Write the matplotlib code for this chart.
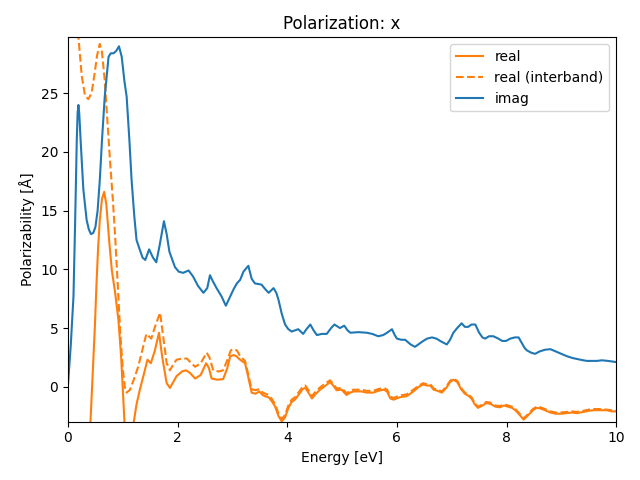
import numpy as np
import matplotlib.pyplot as plt

# real part (total)
real_x = [0.02, 0.2, 0.35, 0.41, 0.46, 0.49, 0.52, 0.55, 0.58, 0.62, 0.66, 0.70, 0.75, 0.80, 0.86, 0.92, 0.97,
          1.03, 1.10, 1.15, 1.20, 1.25, 1.31, 1.38, 1.45, 1.51, 1.58, 1.66, 1.72, 1.80, 1.86, 1.92,
          1.98, 2.08, 2.15, 2.22, 2.32, 2.42, 2.52, 2.57, 2.62, 2.72, 2.83, 2.90, 2.96, 3.02, 3.07,
          3.14, 3.23, 3.28, 3.35, 3.42, 3.49, 3.55, 3.59, 3.66, 3.72, 3.78, 3.84, 3.90, 3.96, 4.02,
          4.08, 4.14, 4.22, 4.28, 4.33, 4.40, 4.45, 4.52, 4.60, 4.70, 4.78, 4.84, 4.90, 4.99, 5.08,
          5.15, 5.21, 5.35, 5.45, 5.57, 5.66, 5.76, 5.82, 5.88, 5.94, 6.05, 6.18, 6.30, 6.40, 6.48,
          6.55, 6.61, 6.67, 6.74, 6.82, 6.90, 6.97, 7.03, 7.10, 7.17, 7.24, 7.30, 7.36, 7.42, 7.48,
          7.56, 7.63, 7.70, 7.80, 7.88, 7.95, 8.03, 8.10, 8.16, 8.24, 8.31, 8.40, 8.48, 8.55, 8.62,
          8.70, 8.80, 8.90, 8.98, 9.10, 9.20, 9.28, 9.40, 9.50, 9.59, 9.70, 9.83, 9.92, 10.0]
real_y = [-40, -20, -8, -3, 2.0, 5.1, 8.8, 11.9, 14.2, 16.0, 16.6, 15.5, 12.5, 9.9, 8.0, 5.7, 2.5,
          -3, -6, -5, -3, -1.5, -0.26, 1.0, 2.3, 2.0, 3.0, 4.6, 2.5, 0.3, -0.1, 0.4,
          0.9, 1.3, 1.4, 1.2, 0.7, 1.0, 2.0, 1.6, 0.7, 0.6, 0.65, 1.5, 2.6, 2.7, 2.6,
          2.3, 2.0, 1.0, -0.5, -0.6, -0.4, -0.7, -0.8, -0.9, -1.25, -1.7, -2.5, -2.95, -2.6, -1.8,
          -1.3, -1.1, -0.6, -0.2, -0.1, -0.6, -1.0, -0.6, -0.25, 0.1, 0.4, 0.1, -0.3, -0.25, -0.7,
          -0.5, -0.4, -0.4, -0.5, -0.5, -0.35, -0.25, -0.4, -1.0, -1.1, -0.9, -0.8, -0.4, 0.0, 0.2,
          0.1, 0.1, -0.25, -0.35, -0.5, -0.1, 0.4, 0.6, 0.4, -0.2, -0.6, -0.75, -1.0, -1.5, -1.8,
          -1.6, -1.4, -1.45, -1.7, -1.75, -1.6, -1.7, -1.8, -2.0, -2.4, -2.8, -2.4, -2.0, -1.8, -1.85,
          -2.0, -2.2, -2.3, -2.3, -2.25, -2.2, -2.25, -2.15, -2.05, -2.0, -2.0, -2.0, -2.1, -2.1]

# real part (interband only)
inter_x = [0.02, 0.1, 0.19, 0.25, 0.31, 0.37, 0.43, 0.48, 0.53, 0.58, 0.62, 0.67, 0.72, 0.77, 0.82,
           0.86, 0.91, 0.95, 1.00, 1.04, 1.07, 1.13, 1.20, 1.28, 1.35, 1.43, 1.52, 1.60, 1.68, 1.73,
           1.80, 1.86, 1.92, 1.98, 2.08, 2.17, 2.25, 2.32, 2.42, 2.53, 2.58, 2.65, 2.75, 2.83, 2.90,
           2.97, 3.03, 3.08, 3.14, 3.23, 3.28, 3.35, 3.42, 3.49, 3.55, 3.66, 3.72, 3.78, 3.84, 3.90,
           3.96, 4.02, 4.08, 4.14, 4.22, 4.28, 4.33, 4.40, 4.45, 4.52, 4.60, 4.70, 4.78, 4.84, 4.90,
           4.99, 5.08, 5.15, 5.21, 5.35, 5.45, 5.57, 5.66, 5.76, 5.82, 5.88, 5.94, 6.05, 6.18, 6.30,
           6.40, 6.48, 6.55, 6.61, 6.67, 6.74, 6.82, 6.90, 6.97, 7.03, 7.10, 7.17, 7.24, 7.30, 7.36,
           7.42, 7.48, 7.56, 7.63, 7.70, 7.80, 7.88, 7.95, 8.03, 8.10, 8.16, 8.24, 8.31, 8.40, 8.48,
           8.55, 8.62, 8.70, 8.80, 8.90, 8.98, 9.10, 9.20, 9.28, 9.40, 9.50, 9.59, 9.70, 9.83, 9.92, 10.0]
inter_y = [45, 36, 29.8, 26.5, 24.8, 24.5, 25.0, 26.5, 28.2, 29.2, 28.5, 26.1, 22.5, 19.0, 15.8,
           12.8, 8.5, 4.8, 1.5, -0.2, -0.5, -0.26, 0.6, 1.7, 3.0, 4.5, 4.1, 5.3, 6.3, 4.5,
           2.0, 1.4, 1.9, 2.3, 2.4, 2.4, 2.0, 1.7, 2.0, 2.9, 2.5, 1.4, 1.3, 1.4, 2.2,
           3.1, 3.2, 3.1, 2.6, 2.2, 1.2, -0.2, -0.3, -0.2, -0.5, -0.7, -1.05, -1.5, -2.3, -2.75,
           -2.4, -1.6, -1.1, -0.9, -0.4, 0.0, 0.1, -0.4, -0.8, -0.4, -0.05, 0.3, 0.55, 0.25, -0.15,
           -0.1, -0.55, -0.35, -0.25, -0.25, -0.35, -0.35, -0.2, -0.1, -0.25, -0.85, -0.95, -0.75, -0.65, -0.25,
           0.1, 0.3, 0.2, 0.2, -0.15, -0.25, -0.4, 0.0, 0.5, 0.7, 0.5, -0.1, -0.5, -0.65, -0.9,
           -1.4, -1.7, -1.5, -1.3, -1.35, -1.6, -1.65, -1.5, -1.6, -1.7, -1.9, -2.3, -2.7, -2.3, -1.9,
           -1.7, -1.75, -1.9, -2.1, -2.2, -2.2, -2.15, -2.1, -2.15, -2.05, -1.95, -1.9, -1.9, -1.95, -2.0, -2.05]

# imaginary part
imag_x = [0.0, 0.05, 0.10, 0.13, 0.16, 0.175, 0.19, 0.205, 0.23, 0.28, 0.34, 0.38, 0.42, 0.46, 0.50, 0.54, 0.58, 0.62, 0.67,
          0.74, 0.78, 0.83, 0.88, 0.93, 0.98, 1.03, 1.07, 1.12, 1.16, 1.21, 1.25, 1.30, 1.36, 1.41,
          1.48, 1.55, 1.61, 1.67, 1.75, 1.80, 1.85, 1.95, 2.02, 2.10, 2.20, 2.28, 2.37, 2.47, 2.54,
          2.59, 2.64, 2.71, 2.80, 2.88, 2.95, 3.02, 3.08, 3.14, 3.20, 3.29, 3.35, 3.41, 3.53, 3.60,
          3.66, 3.75, 3.80, 3.84, 3.90, 3.96, 4.02, 4.08, 4.14, 4.20, 4.29, 4.35, 4.42, 4.48, 4.54,
          4.63, 4.72, 4.80, 4.86, 4.96, 5.04, 5.10, 5.15, 5.30, 5.45, 5.55, 5.66, 5.75, 5.82, 5.91,
          5.96, 6.00, 6.08, 6.15, 6.25, 6.33, 6.42, 6.48, 6.55, 6.64, 6.72, 6.79, 6.91, 6.97, 7.03,
          7.10, 7.18, 7.24, 7.30, 7.36, 7.43, 7.50, 7.56, 7.61, 7.68, 7.76, 7.85, 7.92, 7.99, 8.07,
          8.15, 8.22, 8.28, 8.33, 8.37, 8.45, 8.52, 8.60, 8.70, 8.80, 8.90, 9.00, 9.10, 9.20, 9.30,
          9.40, 9.47, 9.55, 9.65, 9.74, 9.85, 9.93, 10.0]
imag_y = [0.2, 3.5, 7.7, 14.0, 21.0, 23.3, 24.0, 23.3, 21.0, 16.8, 14.2, 13.4, 13.0, 13.1, 13.6, 15.0, 17.6, 21.0, 24.7,
          28.1, 28.4, 28.4, 28.6, 29.0, 28.1, 26.0, 24.7, 21.0, 17.6, 14.5, 12.5, 11.8, 11.0, 10.8,
          11.7, 11.0, 10.6, 12.0, 14.1, 13.0, 11.5, 10.2, 9.8, 9.7, 9.9, 9.4, 8.6, 8.0, 8.4,
          9.5, 9.0, 8.4, 7.7, 6.9, 7.6, 8.3, 8.8, 9.1, 9.8, 10.3, 9.2, 8.8, 8.7, 8.3,
          8.0, 8.4, 8.0, 7.4, 6.2, 5.3, 4.9, 4.7, 4.8, 4.9, 4.5, 4.9, 5.3, 4.8, 4.4,
          4.5, 4.5, 5.0, 5.3, 5.0, 5.2, 4.8, 4.6, 4.65, 4.6, 4.5, 4.3, 4.4, 4.6, 4.9,
          4.4, 4.1, 4.0, 4.0, 3.6, 3.4, 3.7, 3.9, 4.1, 4.2, 4.1, 3.9, 3.6, 4.0, 4.6,
          5.0, 5.4, 5.1, 5.1, 5.3, 5.3, 4.6, 4.2, 4.1, 4.3, 4.3, 4.1, 3.9, 3.9, 4.1,
          4.2, 4.2, 3.7, 3.3, 3.1, 2.9, 2.8, 3.0, 3.15, 3.2, 3.0, 2.8, 2.6, 2.45, 2.35,
          2.25, 2.2, 2.2, 2.2, 2.25, 2.2, 2.15, 2.1]

plt.figure(figsize=(6.4, 4.8), dpi=100)
plt.plot(real_x, real_y, c='C1', label='real')
plt.plot(inter_x, inter_y, c='C1', ls='--', label='real (interband)')
plt.plot(imag_x, imag_y, c='C0', label='imag')
plt.xlim(0, 10)
plt.ylim(-2.98, 29.76)
plt.title('Polarization: x')
plt.xlabel('Energy [eV]')
plt.ylabel('Polarizability [Å]')
plt.legend(loc='upper right')
plt.tight_layout()
plt.subplots_adjust(left=68 / 640)
plt.savefig('out.png')
